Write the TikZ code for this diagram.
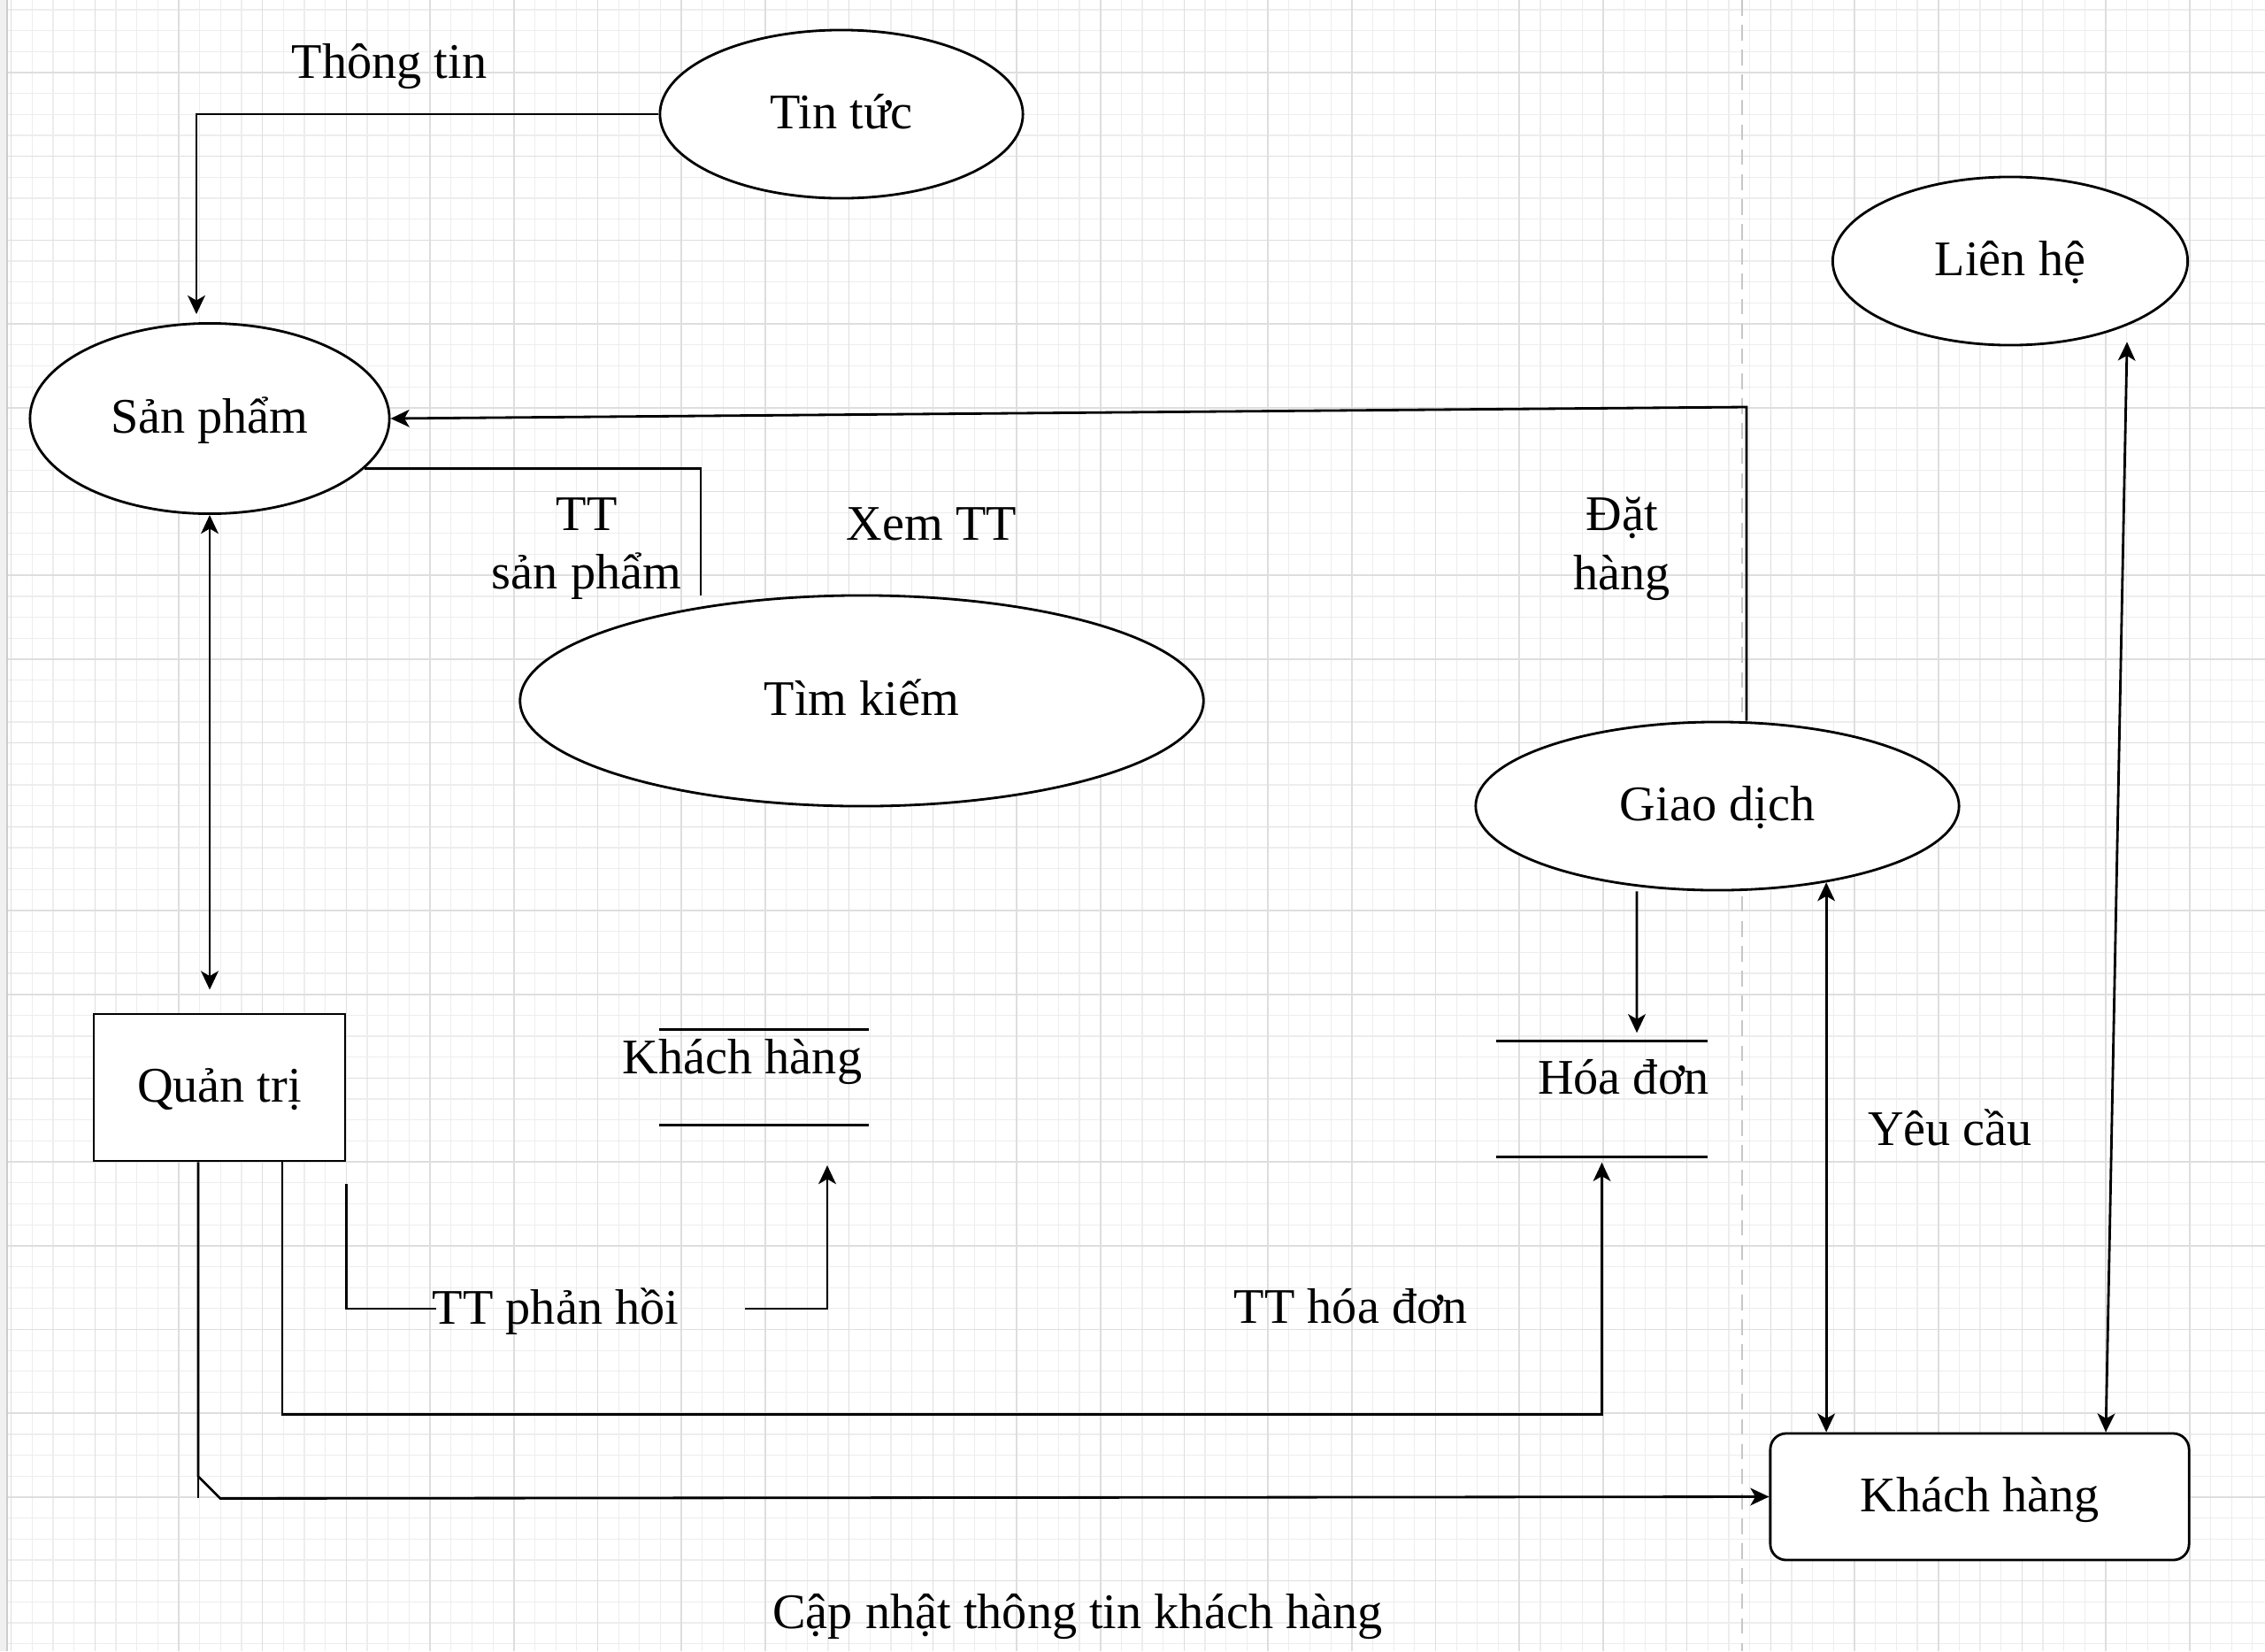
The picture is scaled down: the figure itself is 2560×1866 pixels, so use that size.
\documentclass[tikz,border=0pt]{standalone}
\usepackage{fontspec}
\setmainfont{Liberation Serif}
\usetikzlibrary{arrows.meta,shapes.geometric,calc}
\begin{document}
\begin{tikzpicture}[x=0.01cm,y=-0.01cm,
  every node/.style={font=\fontsize{16}{19}\selectfont},
  proc/.style={ellipse, draw, fill=white, line width=0.8pt, inner sep=0pt, text height=12pt, text depth=2.4pt},
  ent/.style={rectangle, draw, fill=white, line width=0.8pt, inner sep=0pt, text height=12pt, text depth=2.4pt},
  store/.style={rectangle, inner sep=0pt},
  lbl/.style={inner sep=0pt, align=center},
  flow/.style={line width=0.8pt, draw=black},
  tip/.style={},
  arr/.style={flow, -{Stealth[length=6pt,width=5.6pt,inset=1.6pt]}},
  darr/.style={flow, {Stealth[length=6pt,width=5.6pt,inset=1.6pt]}-{Stealth[length=6pt,width=5.6pt,inset=1.6pt]}},
  gridminor/.style={line width=0.35pt, draw=black!7},
  gridmajor/.style={line width=0.45pt, draw=black!13},
]
\useasboundingbox (0,0) rectangle (2560,1866);
\fill[white] (0,0) rectangle (2560,1866);
% grid
\foreach \i in {0,...,108} {
  \pgfmathsetmacro\gx{12.6+\i*23.675}
  \draw[gridminor] (\gx,0) -- (\gx,1866);
}
\foreach \i in {0,...,78} {
  \pgfmathsetmacro\gy{10.975+\i*23.675}
  \draw[gridminor] (0,\gy) -- (2560,\gy);
}
\foreach \i in {0,...,26} {
  \pgfmathsetmacro\gx{12.6+\i*94.7}
  \draw[gridmajor] (\gx,0) -- (\gx,1866);
}
\foreach \i in {0,...,18} {
  \pgfmathsetmacro\gy{82+\i*94.7}
  \draw[gridmajor] (0,\gy) -- (2560,\gy);
}
\fill[black!6] (0,0) rectangle (8,1866);
\draw[black!20, line width=0.5pt] (8,0) -- (8,1866);
\draw[black!22, dash pattern=on 5pt off 3pt, line width=0.6pt] (1969,0) -- (1969,1866);

% processes and entities
\node[proc, minimum width=4.1cm, minimum height=1.9cm] (tin) at (951,129) {Tin tức};
\node[proc, minimum width=4.06cm, minimum height=2.15cm] (sp) at (237,473) {Sản phẩm};
\node[proc, minimum width=7.72cm, minimum height=2.38cm] (tk) at (974,792) {Tìm kiếm};
\node[proc, minimum width=5.46cm, minimum height=1.9cm] (gd) at (1941,911) {Giao dịch};
\node[proc, minimum width=4.01cm, minimum height=1.9cm] (lh) at (2272,295) {Liên hệ};
\node[ent, minimum width=2.84cm, minimum height=1.66cm] (qt) at (248,1229) {Quản trị};
\node[ent, rounded corners=0.18cm, minimum width=4.73cm, minimum height=1.43cm] (kh) at (2237.5,1691.5) {Khách hàng};

% data stores
\node[store, minimum width=2.35cm, minimum height=1.07cm] (khs) at (863.5,1217.5) {};
\draw[flow] (khs.north west) -- (khs.north east) (khs.south west) -- (khs.south east);
\node[lbl, anchor=base] (khst) at (839,1213) {Khách hàng};
\node[store, minimum width=2.37cm, minimum height=1.30cm] (hd) at (1810.5,1242) {};
\draw[flow] (hd.north west) -- (hd.north east) (hd.south west) -- (hd.south east);
\node[lbl, anchor=base] (hdt) at (1835,1236) {Hóa đơn};

% connectors
\draw[arr] (tin.west) -| ([xshift=-0.15cm,yshift=0.09cm]sp.north);
\coordinate (c1) at (1974,460);
\draw[arr] ([xshift=0.33cm]gd.north) -- (c1) -- (sp.east);
\coordinate (tkTop) at (792,673);
\draw[flow] (sp.-18.7) -| (tkTop);
\draw[darr, shorten >=0.26cm] (sp.south) -- (sp.south |- qt.north);
\coordinate (ph1) at (493,1479);
\coordinate (ph2) at (842,1479);
\coordinate (ph3) at (935,1317);
\draw[flow] ([yshift=-0.25cm]qt.south east) |- (ph1);
\draw[arr] (ph2) -| (ph3);
\draw[arr] ([xshift=0.71cm]qt.south) -- ++(0,285) -| ([yshift=-0.06cm]hd.south);
\draw[arr] ([xshift=-0.24cm]qt.south) -- ++(0,355) -- ++(25,25) -- (kh.west);
\draw[flow] ([xshift=-0.24cm]qt.south) ++(0,355) -- ++(0,25);
\draw[arr] ([xshift=-0.91cm]gd.south) -- ([xshift=0.395cm,yshift=0.09cm]hd.north);
\draw[darr] (gd.-35.5) -- (gd.-35.5 |- kh.north);
\draw[darr] ([xshift=1.425cm]kh.north) -- ([xshift=1.32cm,yshift=0.05cm]lh.south);

% labels
\node[lbl, anchor=base] (lThong) at (440,88) {Thông tin};
\node[lbl] (lTTsp) at (663,620) {TT\\sản phẩm};
\node[lbl, anchor=base] (lXem) at (1053,610) {Xem TT};
\node[lbl] (lDat) at (1833,620) {Đặt\\hàng};
\node[lbl, anchor=base] (lPh) at (628,1496) {TT phản hồi};
\node[lbl, anchor=base] (lHd) at (1527,1495) {TT hóa đơn};
\node[lbl, anchor=base] (lYc) at (2204,1294) {Yêu cầu};
\node[lbl, anchor=base] (lCn) at (1218,1840) {Cập nhật thông tin khách hàng};
\end{tikzpicture}
\end{document}
